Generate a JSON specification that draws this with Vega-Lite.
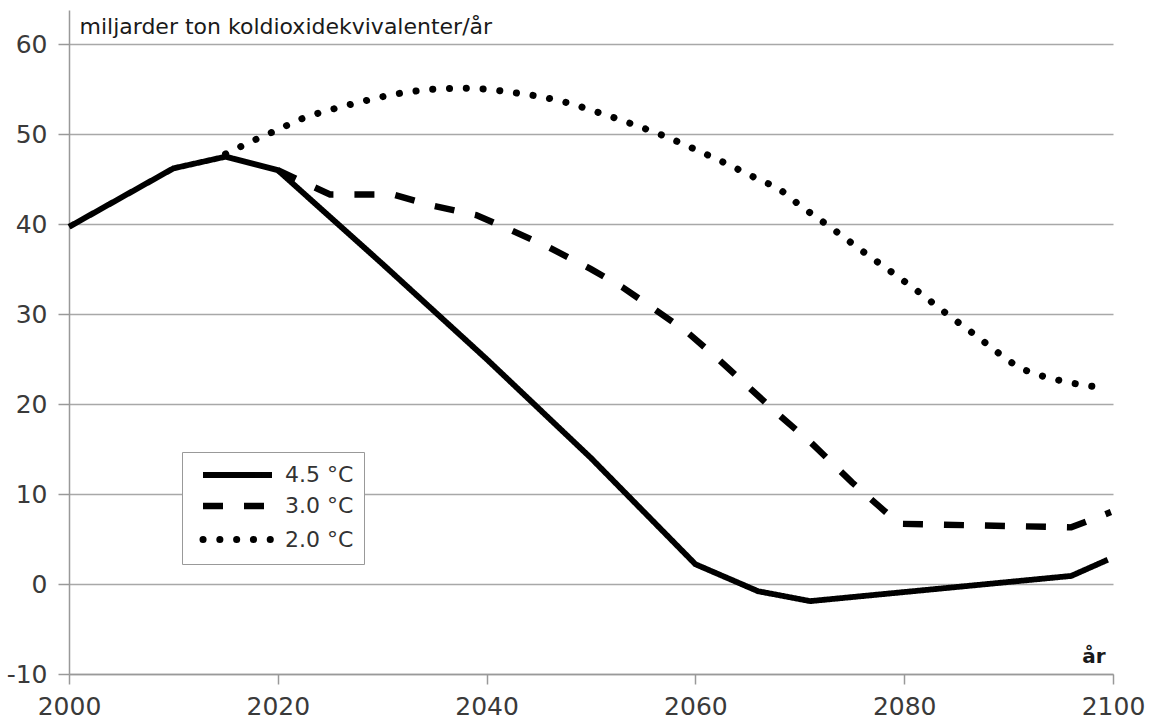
{
  "$schema": "https://vega.github.io/schema/vega-lite/v6.json",
  "width": 1044,
  "height": 664,
  "autosize": {"type": "none"},
  "padding": {"left": 69, "top": 10, "right": 41, "bottom": 46},
  "background": "white",
  "config": {
    "view": {"stroke": null},
    "font": "DejaVu Sans",
    "axis": {
      "gridColor": "#a8a8a8",
      "gridWidth": 1.5,
      "domainColor": "#999999",
      "domainWidth": 1.5,
      "tickColor": "#999999",
      "tickWidth": 1.5,
      "labelColor": "#3a3a3a",
      "labelFont": "DejaVu Sans",
      "titleFont": "DejaVu Sans"
    }
  },
  "data": {
    "values": [
      {"year": 2000, "value": 39.7, "scenario": "4.5 °C"},
      {"year": 2010, "value": 46.2, "scenario": "4.5 °C"},
      {"year": 2015, "value": 47.5, "scenario": "4.5 °C"},
      {"year": 2020, "value": 46.0, "scenario": "4.5 °C"},
      {"year": 2030, "value": 35.6, "scenario": "4.5 °C"},
      {"year": 2040, "value": 25.0, "scenario": "4.5 °C"},
      {"year": 2050, "value": 14.0, "scenario": "4.5 °C"},
      {"year": 2060, "value": 2.2, "scenario": "4.5 °C"},
      {"year": 2066, "value": -0.8, "scenario": "4.5 °C"},
      {"year": 2071, "value": -1.9, "scenario": "4.5 °C"},
      {"year": 2096, "value": 0.9, "scenario": "4.5 °C"},
      {"year": 2099.5, "value": 2.7, "scenario": "4.5 °C"},

      {"year": 2020, "value": 46.0, "scenario": "3.0 °C"},
      {"year": 2022, "value": 44.9, "scenario": "3.0 °C"},
      {"year": 2025, "value": 43.3, "scenario": "3.0 °C"},
      {"year": 2031, "value": 43.3, "scenario": "3.0 °C"},
      {"year": 2035, "value": 42.0, "scenario": "3.0 °C"},
      {"year": 2039, "value": 41.0, "scenario": "3.0 °C"},
      {"year": 2042, "value": 39.5, "scenario": "3.0 °C"},
      {"year": 2046, "value": 37.4, "scenario": "3.0 °C"},
      {"year": 2050, "value": 35.0, "scenario": "3.0 °C"},
      {"year": 2053, "value": 33.0, "scenario": "3.0 °C"},
      {"year": 2056, "value": 30.6, "scenario": "3.0 °C"},
      {"year": 2059, "value": 28.2, "scenario": "3.0 °C"},
      {"year": 2062, "value": 25.2, "scenario": "3.0 °C"},
      {"year": 2065, "value": 22.0, "scenario": "3.0 °C"},
      {"year": 2068, "value": 18.8, "scenario": "3.0 °C"},
      {"year": 2071, "value": 15.8, "scenario": "3.0 °C"},
      {"year": 2075, "value": 11.3, "scenario": "3.0 °C"},
      {"year": 2079.5, "value": 6.7, "scenario": "3.0 °C"},
      {"year": 2096, "value": 6.3, "scenario": "3.0 °C"},
      {"year": 2099.8, "value": 8.0, "scenario": "3.0 °C"},

      {"year": 2015, "value": 47.8, "scenario": "2.0 °C"},
      {"year": 2017.5, "value": 49.2, "scenario": "2.0 °C"},
      {"year": 2020, "value": 50.5, "scenario": "2.0 °C"},
      {"year": 2022.5, "value": 51.8, "scenario": "2.0 °C"},
      {"year": 2025, "value": 52.7, "scenario": "2.0 °C"},
      {"year": 2028, "value": 53.6, "scenario": "2.0 °C"},
      {"year": 2031, "value": 54.4, "scenario": "2.0 °C"},
      {"year": 2034, "value": 54.9, "scenario": "2.0 °C"},
      {"year": 2037.5, "value": 55.1, "scenario": "2.0 °C"},
      {"year": 2040, "value": 55.0, "scenario": "2.0 °C"},
      {"year": 2042, "value": 54.7, "scenario": "2.0 °C"},
      {"year": 2045, "value": 54.2, "scenario": "2.0 °C"},
      {"year": 2048, "value": 53.4, "scenario": "2.0 °C"},
      {"year": 2051, "value": 52.3, "scenario": "2.0 °C"},
      {"year": 2054, "value": 51.1, "scenario": "2.0 °C"},
      {"year": 2057, "value": 49.8, "scenario": "2.0 °C"},
      {"year": 2060, "value": 48.3, "scenario": "2.0 °C"},
      {"year": 2063, "value": 46.7, "scenario": "2.0 °C"},
      {"year": 2066, "value": 45.0, "scenario": "2.0 °C"},
      {"year": 2068, "value": 43.9, "scenario": "2.0 °C"},
      {"year": 2070, "value": 42.1, "scenario": "2.0 °C"},
      {"year": 2073, "value": 39.6, "scenario": "2.0 °C"},
      {"year": 2076, "value": 37.0, "scenario": "2.0 °C"},
      {"year": 2079, "value": 34.5, "scenario": "2.0 °C"},
      {"year": 2081, "value": 32.8, "scenario": "2.0 °C"},
      {"year": 2084, "value": 30.1, "scenario": "2.0 °C"},
      {"year": 2087, "value": 27.5, "scenario": "2.0 °C"},
      {"year": 2089, "value": 25.7, "scenario": "2.0 °C"},
      {"year": 2091, "value": 24.1, "scenario": "2.0 °C"},
      {"year": 2093, "value": 23.2, "scenario": "2.0 °C"},
      {"year": 2095, "value": 22.6, "scenario": "2.0 °C"},
      {"year": 2097.3, "value": 22.1, "scenario": "2.0 °C"},
      {"year": 2099.3, "value": 21.8, "scenario": "2.0 °C"}
    ]
  },
  "encoding": {
    "x": {
      "field": "year",
      "type": "quantitative",
      "scale": {"domain": [2000, 2100], "nice": false, "zero": false},
      "axis": {
        "values": [2000, 2020, 2040, 2060, 2080, 2100],
        "format": "d",
        "grid": false,
        "tickSize": 10,
        "labelFontSize": 25,
        "labelBaseline": "alphabetic",
        "labelPadding": 30,
        "labelFlush": false,
        "labelOverlap": false,
        "title": "år",
        "titleFontSize": 20,
        "titleFontWeight": "bold",
        "titleColor": "#1a1a1a",
        "titleAlign": "right",
        "titleBaseline": "alphabetic",
        "titleAnchor": null,
        "titleX": 1036,
        "titleY": -12
      }
    },
    "y": {
      "field": "value",
      "type": "quantitative",
      "scale": {"domain": [-10, 63.8], "nice": false, "zero": false},
      "axis": {
        "values": [-10, 0, 10, 20, 30, 40, 50, 60],
        "labelExpr": "'' + datum.value",
        "grid": true,
        "tickSize": 11,
        "labelFontSize": 25,
        "labelPadding": 11,
        "labelBaseline": "middle",
        "labelOverlap": false,
        "title": "miljarder ton koldioxidekvivalenter/år",
        "titleAngle": 0,
        "titleAlign": "left",
        "titleBaseline": "alphabetic",
        "titleAnchor": null,
        "titleX": 10,
        "titleY": 23,
        "titleFontSize": 22,
        "titleFontWeight": "normal",
        "titleColor": "#1a1a1a"
      }
    }
  },
  "layer": [
    {
      "transform": [{"filter": "datum.scenario !== '2.0 °C'"}],
      "mark": {"type": "line", "color": "black", "strokeCap": "butt", "strokeJoin": "miter", "interpolate": "linear"},
      "encoding": {
        "strokeDash": {
          "field": "scenario",
          "type": "nominal",
          "sort": null,
          "scale": {"domain": ["4.5 °C", "3.0 °C", "2.0 °C"], "range": [[1, 0], [20, 21], [0.1, 16.7]]},
          "legend": {
            "title": null,
            "orient": "none",
            "legendX": 113,
            "legendY": 442,
            "padding": 10,
            "symbolOffset": 32,
            "symbolType": "M-3.45,0H3.45",
            "symbolSize": 400,
            "symbolStrokeWidth": 4.5,
            "symbolStrokeColor": "black",
            "labelFontSize": 22,
            "labelColor": "#333333",
            "labelOffset": 34,
            "rowPadding": 5.5,
            "strokeColor": "#999999",
            "fillColor": "white",
            "encode": {
              "symbols": {
                "update": {
                  "strokeCap": {"signal": "datum.value === '2.0 °C' ? 'round' : 'butt'"},
                  "strokeDash": {"signal": "datum.value === '2.0 °C' ? [0.1, 16.7] : (datum.value === '3.0 °C' ? [11, 17] : [1, 0])"}
                }
              }
            }
          }
        },
        "strokeWidth": {
          "field": "scenario",
          "type": "nominal",
          "scale": {"domain": ["4.5 °C", "3.0 °C", "2.0 °C"], "range": [5.8, 7, 6.5]},
          "legend": null
        }
      }
    },
    {
      "transform": [{"filter": "datum.scenario === '2.0 °C'"}],
      "mark": {"type": "line", "color": "black", "strokeCap": "round", "interpolate": "monotone"},
      "encoding": {
        "strokeDash": {"field": "scenario", "type": "nominal", "sort": null},
        "strokeWidth": {"field": "scenario", "type": "nominal", "legend": null}
      }
    }
  ]
}
